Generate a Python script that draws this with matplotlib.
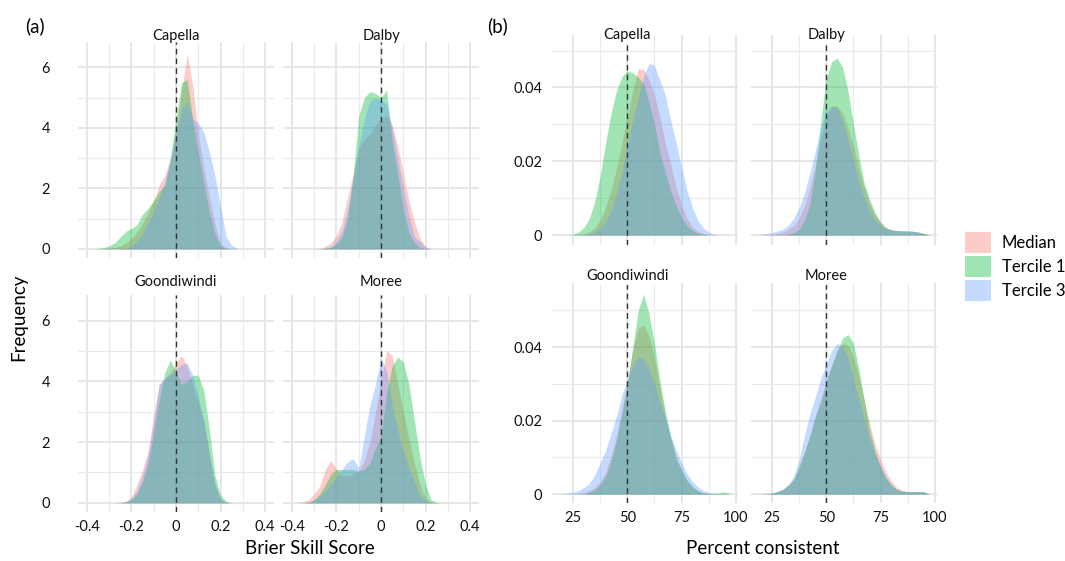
import matplotlib
matplotlib.use('Agg')
import matplotlib.pyplot as plt
from matplotlib.patches import Patch
from matplotlib import transforms

plt.rcParams['font.family'] = ['Lato', 'DejaVu Sans']

# ---- data (density curves) ----
groups = ['Median', 'Tercile 1', 'Tercile 3']
group_colors = ['#F8766D', '#00BA38', '#619CFF']
sites = ['Capella', 'Dalby', 'Goondiwindi', 'Moree']

# (a) Brier Skill Score grid
bss_x = [-0.375, -0.35, -0.325, -0.3, -0.275, -0.25, -0.225, -0.2, -0.175, -0.15,
         -0.125, -0.1, -0.075, -0.05, -0.025, 0.0, 0.025, 0.05, 0.075, 0.1,
         0.125, 0.15, 0.175, 0.2, 0.225, 0.25, 0.275]

capella_bss_median = [0, 0, 0, 0.02, 0.05, 0.1, 0.2, 0.35, 0.55, 0.85, 1.2, 1.6, 2.1, 2.45, 3.0, 3.9,
                      5.2, 6.45, 5.4, 3.8, 2.7, 1.7, 0.84, 0.18, 0.03, 0, 0]
capella_bss_t1 = [0, 0.02, 0.05, 0.1, 0.2, 0.4, 0.58, 0.68, 0.8, 1.15, 1.35, 1.6, 1.9, 2.1, 3.0, 4.3,
                  5.5, 5.6, 4.3, 3.2, 2.2, 1.2, 0.5, 0.1, 0.02, 0, 0]
capella_bss_t3 = [0, 0, 0, 0, 0, 0, 0.02, 0.1, 0.25, 0.5, 0.85, 1.25, 1.7, 2.2, 2.9, 3.8,
                  4.6, 4.9, 4.3, 4.15, 3.85, 3.2, 2.4, 1.4, 0.4, 0.12, 0.02]

dalby_bss_median = [0, 0, 0, 0, 0.02, 0.08, 0.2, 0.45, 0.9, 1.7, 2.5, 3.3, 3.6, 3.8, 4.1, 4.3,
                    4.4, 4.1, 3.4, 2.5, 1.6, 0.9, 0.35, 0.08, 0, 0, 0]
dalby_bss_t1 = [0, 0, 0, 0, 0, 0.02, 0.05, 0.15, 0.4, 1.0, 2.4, 4.4, 5.0, 5.2, 5.15, 5.0,
                5.25, 3.6, 2.5, 1.3, 0.55, 0.2, 0.05, 0, 0, 0, 0]
dalby_bss_t3 = [0, 0, 0, 0, 0, 0.02, 0.08, 0.25, 0.6, 1.3, 2.3, 3.4, 4.3, 4.9, 5.0, 4.9,
                4.8, 4.0, 3.0, 2.0, 1.1, 0.4, 0.25, 0.05, 0, 0, 0]

goondiwindi_bss_median = [0, 0, 0, 0, 0, 0.02, 0.05, 0.2, 0.6, 1.1, 1.7, 2.9, 3.9, 4.1, 4.3, 4.6,
                          4.85, 4.5, 3.9, 3.3, 2.7, 1.6, 0.6, 0.12, 0.02, 0, 0]
goondiwindi_bss_t1 = [0, 0, 0, 0, 0, 0, 0.02, 0.1, 0.3, 0.7, 1.3, 2.3, 3.4, 4.3, 4.7, 4.3,
                      3.9, 4.0, 4.2, 4.2, 3.7, 2.4, 0.9, 0.25, 0.05, 0, 0]
goondiwindi_bss_t3 = [0, 0, 0, 0, 0, 0.01, 0.04, 0.15, 0.4, 0.9, 1.6, 2.7, 3.9, 4.1, 4.2, 4.4,
                      4.55, 4.6, 4.2, 3.5, 2.7, 1.6, 0.6, 0.12, 0.02, 0, 0]

moree_bss_median = [0.01, 0.04, 0.1, 0.3, 0.55, 1.1, 1.4, 1.1, 0.9, 0.9, 0.95, 1.05, 1.4, 2.0, 3.0, 4.0,
                    5.0, 4.85, 3.9, 3.0, 2.1, 1.3, 0.6, 0.15, 0.03, 0, 0]
moree_bss_t1 = [0, 0, 0.02, 0.1, 0.3, 0.6, 0.95, 1.1, 1.1, 1.1, 1.1, 1.05, 1.1, 1.3, 1.8, 2.2,
                3.6, 4.5, 4.8, 4.65, 3.9, 2.7, 1.5, 0.6, 0.1, 0.02, 0]
moree_bss_t3 = [0, 0, 0.02, 0.1, 0.2, 0.4, 0.6, 0.85, 1.1, 1.35, 1.45, 1.15, 2.2, 3.2, 3.9, 4.75,
                4.35, 3.2, 2.4, 1.7, 1.2, 0.7, 0.25, 0.06, 0.01, 0, 0]

# (b) Percent consistent grid
pct_x = [20, 22.5, 25, 27.5, 30, 32.5, 35, 37.5, 40, 42.5, 45, 47.5, 50, 52.5, 55, 57.5,
         60, 62.5, 65, 67.5, 70, 72.5, 75, 77.5, 80, 82.5, 85, 87.5, 90, 92.5, 95, 97.5]

capella_pct_median = [0, 0, 0, 0.0001, 0.0003, 0.0008, 0.002, 0.004, 0.0075, 0.012, 0.018, 0.025, 0.032, 0.039, 0.045, 0.045,
                      0.042, 0.038, 0.032, 0.025, 0.019, 0.013, 0.008, 0.0045, 0.0022, 0.001, 0.0004, 0.0001, 0, 0, 0, 0]
capella_pct_t1 = [0, 0, 0.0002, 0.0008, 0.002, 0.0045, 0.009, 0.016, 0.025, 0.033, 0.039, 0.043, 0.0444, 0.044, 0.0428, 0.041,
                  0.036, 0.03, 0.0225, 0.017, 0.012, 0.008, 0.0048, 0.0025, 0.0012, 0.0005, 0.0002, 0, 0, 0, 0, 0]
capella_pct_t3 = [0, 0, 0, 0, 0.0001, 0.0003, 0.0008, 0.0018, 0.0035, 0.0065, 0.011, 0.017, 0.024, 0.031, 0.037, 0.043,
                  0.0465, 0.046, 0.042, 0.038, 0.031, 0.025, 0.0185, 0.012, 0.0075, 0.004, 0.002, 0.0008, 0.0002, 0, 0, 0]

dalby_pct_median = [0, 0, 0.0002, 0.0004, 0.0008, 0.0015, 0.0025, 0.0045, 0.008, 0.013, 0.019, 0.026, 0.032, 0.035, 0.035, 0.033,
                    0.029, 0.024, 0.018, 0.013, 0.0085, 0.0055, 0.0033, 0.002, 0.0015, 0.0013, 0.0012, 0.0011, 0.001, 0.0008, 0.0004, 0]
dalby_pct_t1 = [0, 0, 0, 0, 0, 0.0002, 0.0006, 0.0015, 0.004, 0.0085, 0.018, 0.031, 0.0425, 0.047, 0.048, 0.0455,
                0.039, 0.03, 0.0215, 0.014, 0.0095, 0.006, 0.0035, 0.002, 0.0014, 0.0012, 0.0011, 0.0011, 0.001, 0.0008, 0.0004, 0]
dalby_pct_t3 = [0.0002, 0.0004, 0.0007, 0.0011, 0.0016, 0.0026, 0.0045, 0.0075, 0.0115, 0.017, 0.023, 0.029, 0.0335, 0.035, 0.0345, 0.031,
                0.026, 0.02, 0.0145, 0.01, 0.0065, 0.004, 0.0025, 0.0017, 0.0013, 0.0012, 0.0011, 0.0011, 0.001, 0.0008, 0.0004, 0]

goondiwindi_pct_median = [0, 0, 0, 0, 0.0004, 0.001, 0.0018, 0.0034, 0.006, 0.0105, 0.0158, 0.023, 0.031, 0.039, 0.045, 0.046,
                          0.043, 0.037, 0.029, 0.0215, 0.015, 0.0098, 0.006, 0.0035, 0.0018, 0.0008, 0.0003, 0.0001, 0, 0, 0, 0]
goondiwindi_pct_t1 = [0, 0, 0, 0, 0, 0.0005, 0.0012, 0.0025, 0.0048, 0.009, 0.0145, 0.022, 0.03, 0.04, 0.05, 0.0544,
                      0.049, 0.041, 0.031, 0.0225, 0.0155, 0.01, 0.0068, 0.004, 0.0022, 0.001, 0.0004, 0.0002, 0.0002, 0.0004, 0.0006, 0]
goondiwindi_pct_t3 = [0.0001, 0.0003, 0.0005, 0.001, 0.0018, 0.003, 0.0052, 0.0085, 0.012, 0.0165, 0.0212, 0.027, 0.031, 0.035, 0.0373, 0.037,
                      0.034, 0.03, 0.025, 0.0205, 0.016, 0.012, 0.0085, 0.0055, 0.0035, 0.002, 0.001, 0.0005, 0.0002, 0, 0, 0]

moree_pct_median = [0, 0.0001, 0.0003, 0.0007, 0.0013, 0.0025, 0.004, 0.0075, 0.0115, 0.016, 0.0215, 0.026, 0.031, 0.035, 0.039, 0.041,
                    0.0405, 0.0375, 0.032, 0.0255, 0.019, 0.0135, 0.0095, 0.006, 0.0035, 0.0018, 0.001, 0.0007, 0.0007, 0.0007, 0.0006, 0]
moree_pct_t1 = [0, 0.0001, 0.0003, 0.0007, 0.0013, 0.0025, 0.004, 0.0075, 0.0115, 0.016, 0.021, 0.025, 0.0305, 0.035, 0.039, 0.0425,
                0.0434, 0.041, 0.034, 0.0255, 0.0175, 0.0115, 0.0075, 0.0045, 0.0025, 0.0013, 0.0008, 0.0007, 0.0007, 0.0007, 0.0007, 0]
moree_pct_t3 = [0, 0.0001, 0.0003, 0.0007, 0.0013, 0.0025, 0.005, 0.0095, 0.016, 0.022, 0.0265, 0.0315, 0.0355, 0.039, 0.041, 0.04,
                0.037, 0.031, 0.026, 0.0205, 0.015, 0.011, 0.0075, 0.0045, 0.0025, 0.0013, 0.0008, 0.0007, 0.0007, 0.0007, 0.0006, 0]

bss = {'Capella': [capella_bss_median, capella_bss_t1, capella_bss_t3],
       'Dalby': [dalby_bss_median, dalby_bss_t1, dalby_bss_t3],
       'Goondiwindi': [goondiwindi_bss_median, goondiwindi_bss_t1, goondiwindi_bss_t3],
       'Moree': [moree_bss_median, moree_bss_t1, moree_bss_t3]}
pct = {'Capella': [capella_pct_median, capella_pct_t1, capella_pct_t3],
       'Dalby': [dalby_pct_median, dalby_pct_t1, dalby_pct_t3],
       'Goondiwindi': [goondiwindi_pct_median, goondiwindi_pct_t1, goondiwindi_pct_t3],
       'Moree': [moree_pct_median, moree_pct_t1, moree_pct_t3]}

W, H = 1065, 561
ALPHA = 0.37
fig = plt.figure(figsize=(W / 100, H / 100), dpi=100)


def add_panel(left, top, right, bottom):
    return fig.add_axes([left / W, 1 - bottom / H, (right - left) / W, (bottom - top) / H])


def style_panel(ax, xmaj, xmin, ymaj, ymin):
    for s in ax.spines.values():
        s.set_visible(False)
    ax.set_xticks(xmaj)
    ax.set_xticks(xmin, minor=True)
    ax.set_yticks(ymaj)
    ax.set_yticks(ymin, minor=True)
    ax.grid(which='major', color='#e4e4e4', lw=1.3)
    ax.grid(which='minor', color='#eaeaea', lw=0.8)
    ax.set_axisbelow(True)
    ax.tick_params(which='both', length=0, labelsize=10.5, labelcolor='#111111')


def strip(ax, xc, ypix, name, boxed=False):
    tr = transforms.blended_transform_factory(ax.transData, fig.transFigure)
    box = dict(facecolor='white', edgecolor='none', pad=1.5) if boxed else None
    ax.text(xc, 1 - ypix / H, name, transform=tr, ha='center', va='center',
            fontsize=10.5, color='#111111', bbox=box, zorder=5)


# ---- (a) Brier Skill Score ----
a_cols = [(78, 274), (283, 479)]
a_rows = [(42, 258), (295, 512)]
a_strip_y = [36, 282]
for i, site in enumerate(sites):
    r, c = divmod(i, 2)
    ax = add_panel(a_cols[c][0], a_rows[r][0], a_cols[c][1], a_rows[r][1])
    for vals, col in zip(bss[site], group_colors):
        ax.fill_between(bss_x, vals, color=col, alpha=ALPHA, lw=0)
    ax.axvline(0, color='#333333', lw=1.0, ls=(0, (4, 3)))
    style_panel(ax, [-0.4, -0.2, 0, 0.2, 0.4], [-0.3, -0.1, 0.1, 0.3], [0, 2, 4, 6], [1, 3, 5])
    ax.set_xlim(-0.44, 0.44)
    ax.set_ylim(-0.3, 6.84)
    ax.set_xticklabels(['-0.4', '-0.2', '0', '0.2', '0.4'] if r == 1 else [])
    ax.set_yticklabels(['0', '2', '4', '6'] if c == 0 else [])
    ax.tick_params(axis='y', pad=20)
    ax.tick_params(axis='x', pad=5.5)
    strip(ax, 0, a_strip_y[r], site)

# ---- (b) Percent consistent ----
b_cols = [(552, 738), (751, 937)]
b_rows = [(35, 245), (283, 503)]
b_ylims = [(-0.0027, 0.0542), (-0.0024, 0.0574)]
b_strip_y = [35, 276]
for i, site in enumerate(sites):
    r, c = divmod(i, 2)
    ax = add_panel(b_cols[c][0], b_rows[r][0], b_cols[c][1], b_rows[r][1])
    for vals, col in zip(pct[site], group_colors):
        ax.fill_between(pct_x, vals, color=col, alpha=ALPHA, lw=0)
    ax.axvline(50, color='#333333', lw=1.0, ls=(0, (4, 3)))
    style_panel(ax, [25, 50, 75, 100], [37.5, 62.5, 87.5], [0, 0.02, 0.04], [0.01, 0.03, 0.05])
    ax.set_xlim(15.3, 101)
    ax.set_ylim(*b_ylims[r])
    ax.set_xticklabels(['25', '50', '75', '100'] if r == 1 else [])
    ax.set_yticklabels(['0', '0.02', '0.04'] if c == 0 else [])
    ax.tick_params(axis='y', pad=7)
    ax.tick_params(axis='x', pad=6)
    strip(ax, 50, b_strip_y[r], site, boxed=True)

# ---- labels ----
fig.text(35 / W, 1 - 26 / H, '(a)', fontsize=13.5, ha='center', va='center')
fig.text(498 / W, 1 - 26 / H, '(b)', fontsize=13.5, ha='center', va='center')
fig.text(19 / W, 1 - 317 / H, 'Frequency', fontsize=13.5, rotation=90, ha='center', va='center')
fig.text(310 / W, 1 - 549 / H, 'Brier Skill Score', fontsize=13.5, ha='center', va='center')
fig.text(763 / W, 1 - 549 / H, 'Percent consistent', fontsize=13.5, ha='center', va='center')

handles = [Patch(facecolor=col, alpha=ALPHA, edgecolor='none') for col in group_colors]
fig.legend(handles, groups, loc='upper left', bbox_to_anchor=(965 / W, 1 - 232 / H),
           frameon=False, fontsize=12, handlelength=1.56, handleheight=1.56,
           labelspacing=0.18, handletextpad=0.65, borderpad=0, borderaxespad=0)

fig.savefig('out.png', dpi=100)
